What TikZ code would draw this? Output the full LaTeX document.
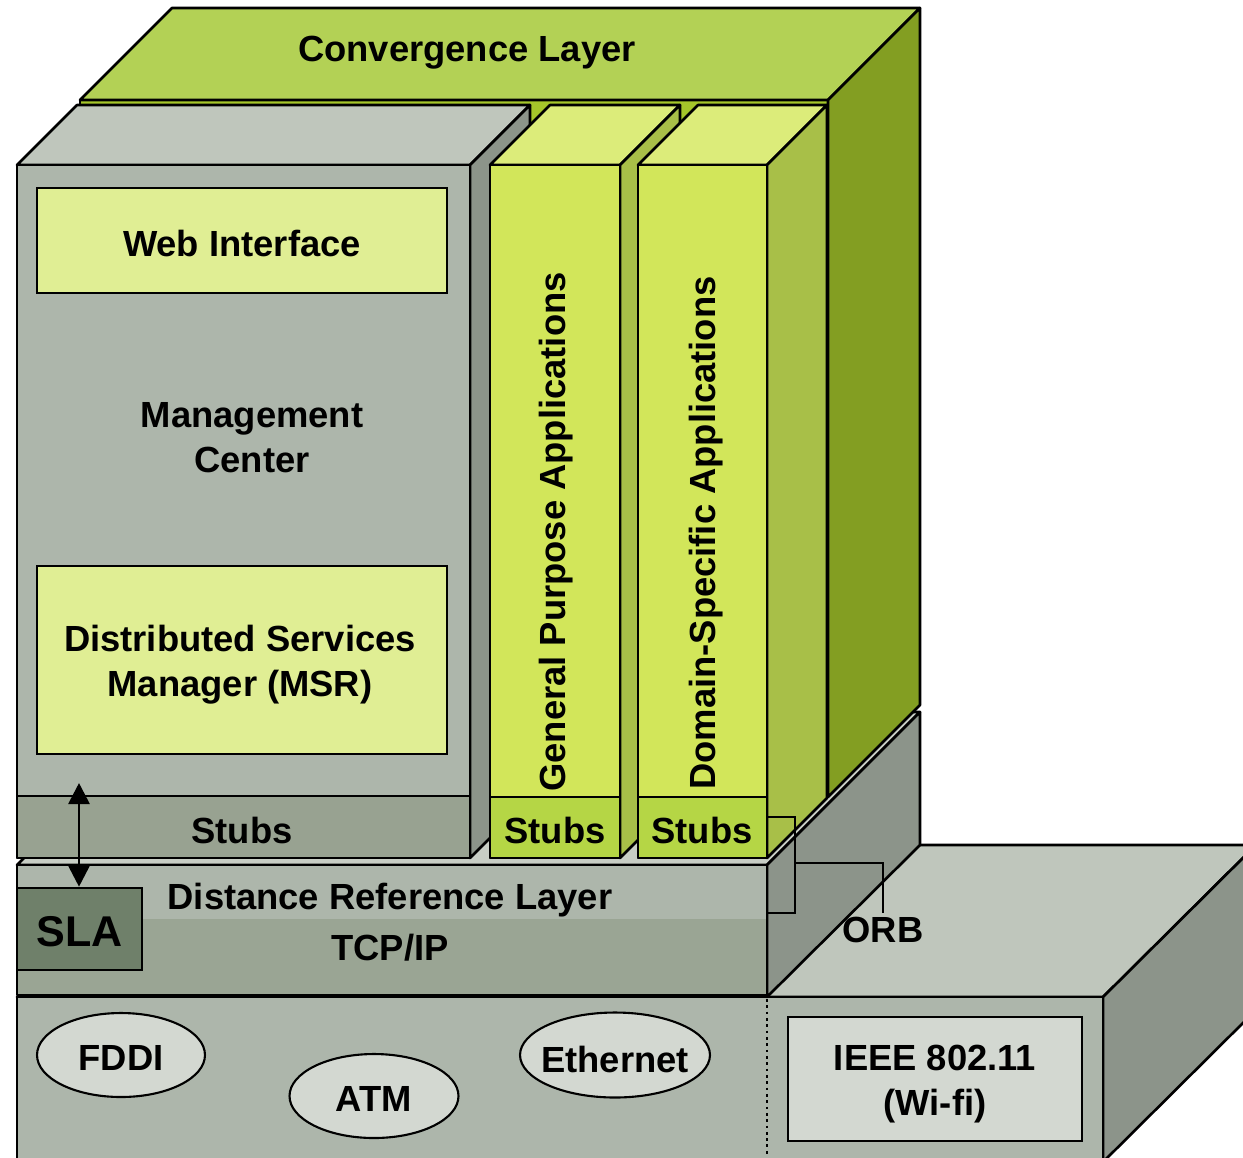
\documentclass[tikz,border=0pt]{standalone}
\usepackage{fontspec}
\setmainfont{Liberation Sans}
\usetikzlibrary{arrows.meta,shapes.geometric}
\definecolor{cvtop}{HTML}{B3D155}
\definecolor{cvside}{HTML}{839E22}
\definecolor{cvfront}{HTML}{A5C62A}
\definecolor{gfront}{HTML}{ADB6AB}
\definecolor{gtop}{HTML}{BFC6BC}
\definecolor{gside}{HTML}{8C948A}
\definecolor{gstub}{HTML}{98A291}
\definecolor{ylbox}{HTML}{E0EE94}
\definecolor{afront}{HTML}{D2E65A}
\definecolor{atop}{HTML}{DCEC7A}
\definecolor{aside}{HTML}{A8BF48}
\definecolor{astub}{HTML}{B5D645}
\definecolor{drltop}{HTML}{C8CEC5}
\definecolor{tcpcol}{HTML}{9AA594}
\definecolor{slacol}{HTML}{6F806A}
\definecolor{pale}{HTML}{D3D8D1}
\begin{document}
\begin{tikzpicture}[x=0.02cm,y=-0.02cm,
  face/.style={draw=black,line width=1.5pt,line join=round},
  lbl/.style={font=\fontsize{20.7}{25.5}\selectfont\bfseries,align=center,inner sep=0pt},
  inbox/.style={draw=black,line width=1.5pt,fill=ylbox,inner sep=0pt},
  oval/.style={ellipse,draw=black,line width=1.2pt,fill=pale,inner sep=0pt},
  thin/.style={draw=black,line width=1.3pt}]
\useasboundingbox (0,0) rectangle (1243,1157);
\clip (0,0) rectangle (1243,1157);

% lower physical box
\path[face,fill=gtop] (17,997) -- (170,845) -- (1256,845) -- (1103,997) -- cycle;
\path[face,fill=gside] (1103,997) -- (1256,845) -- (1256,1010) -- (1103,1162) -- cycle;
\path[face,fill=gfront] (17,997) rectangle (1103,1175);
\draw[dotted,line width=1.6pt] (767,999) -- (767,1157);

% distance reference layer
\path[face,fill=drltop] (17,865) -- (170,712) -- (920,712) -- (767,865) -- cycle;
\path[face,fill=gside] (767,865) -- (920,712) -- (920,845) -- (767,997) -- cycle;
\fill[gfront] (17,865) rectangle (767,919);
\fill[tcpcol] (17,919) rectangle (767,995);
\draw[face] (17,865) rectangle (767,995);

% convergence layer
\path[face,fill=cvfront] (80,100) rectangle (828,797);
\path[face,fill=cvtop] (80,100) -- (172,8) -- (920,8) -- (828,100) -- cycle;
\path[face,fill=cvside] (828,100) -- (920,8) -- (920,705) -- (828,797) -- cycle;

% management center
\path[face,fill=gtop] (17,165) -- (77,105) -- (530,105) -- (470,165) -- cycle;
\path[face,fill=gside] (470,165) -- (530,105) -- (530,798) -- (470,858) -- cycle;
\path[face,fill=gfront] (17,165) rectangle (470,858);
\path[face,fill=gstub] (17,796) rectangle (470,858);

% general purpose applications
\path[face,fill=atop] (490,165) -- (550,105) -- (680,105) -- (620,165) -- cycle;
\path[face,fill=aside] (620,165) -- (680,105) -- (680,798) -- (620,858) -- cycle;
\path[face,fill=afront] (490,165) rectangle (620,858);
\path[face,fill=astub] (490,797) rectangle (620,858);

% domain-specific applications
\path[face,fill=atop] (638,165) -- (698,105) -- (827,105) -- (767,165) -- cycle;
\path[face,fill=aside] (767,165) -- (827,105) -- (827,798) -- (767,858) -- cycle;
\path[face,fill=afront] (638,165) rectangle (767,858);
\path[face,fill=astub] (638,797) rectangle (767,858);

% inner boxes
\node[inbox,minimum width=8.2cm,minimum height=2.1cm] (webbox) at (242,240.5) {};
\node[inbox,minimum width=8.2cm,minimum height=3.76cm] (dsmbox) at (242,660) {};
\node[draw=black,line width=1.5pt,fill=slacol,inner sep=0pt,minimum width=2.5cm,minimum height=1.64cm] (slabox) at (79.5,929) {};
\node[oval,minimum width=3.36cm,minimum height=1.68cm] (fddibox) at (121,1055) {};
\node[oval,minimum width=3.38cm,minimum height=1.68cm] (atmbox) at (374,1096) {};
\node[oval,minimum width=3.8cm,minimum height=1.7cm] (ethbox) at (615,1055) {};
\node[draw=black,line width=1.5pt,fill=pale,inner sep=0pt,minimum width=5.88cm,minimum height=2.48cm] (ieeebox) at (935,1079) {};

% texts
\node[lbl] (conv) at (467,53) {Convergence Layer};
\node[lbl] (web) at (242,243) {Web Interface};
\node[lbl] (mc) at (252,438) {Management\\Center};
\node[lbl] (dsm) at (240,665) {Distributed Services\\Manager (MSR)};
\node[lbl] (stub1) at (242,830) {Stubs};
\node[lbl,rotate=90] (gpa) at (556,532) {General Purpose Applications};
\node[lbl] (stub2) at (555,830) {Stubs};
\node[lbl,rotate=90] (dsa) at (706,533) {Domain-Specific Applications};
\node[lbl] (stub3) at (702,830) {Stubs};
\node[lbl] (drl) at (390,900) {Distance Reference Layer};
\node[lbl] (tcp) at (390,948) {TCP/IP};
\node[lbl,font=\fontsize{24.5}{28}\selectfont\bfseries] (sla) at (79.5,932) {SLA};
\node[lbl] (fddi) at (121,1058) {FDDI};
\node[lbl] (atm) at (374,1099) {ATM};
\node[lbl] (eth) at (615,1059) {Ethernet};
\node[lbl] (ieee) at (935,1084) {IEEE 802.11\\(Wi-fi)};
\node[lbl] (orb) at (883,930) {ORB};

% connectors
\coordinate (arrtop) at (79,783);
\draw[line width=1.6pt,{Triangle[length=12pt,width=12pt]}-{Triangle[length=12pt,width=12pt]}] (arrtop) -- (arrtop |- slabox.north);
\coordinate (b1) at (767,817);
\coordinate (b2) at (795,817);
\coordinate (b3) at (795,913);
\coordinate (b4) at (767,913);
\coordinate (b5) at (795,863);
\coordinate (b6) at (883,863);
\draw[thin] (b1) -- (b2) -- (b3) -- (b4);
\draw[thin] (b5) -- (b6) -- ([yshift=2pt]orb.north);
\end{tikzpicture}
\end{document}
